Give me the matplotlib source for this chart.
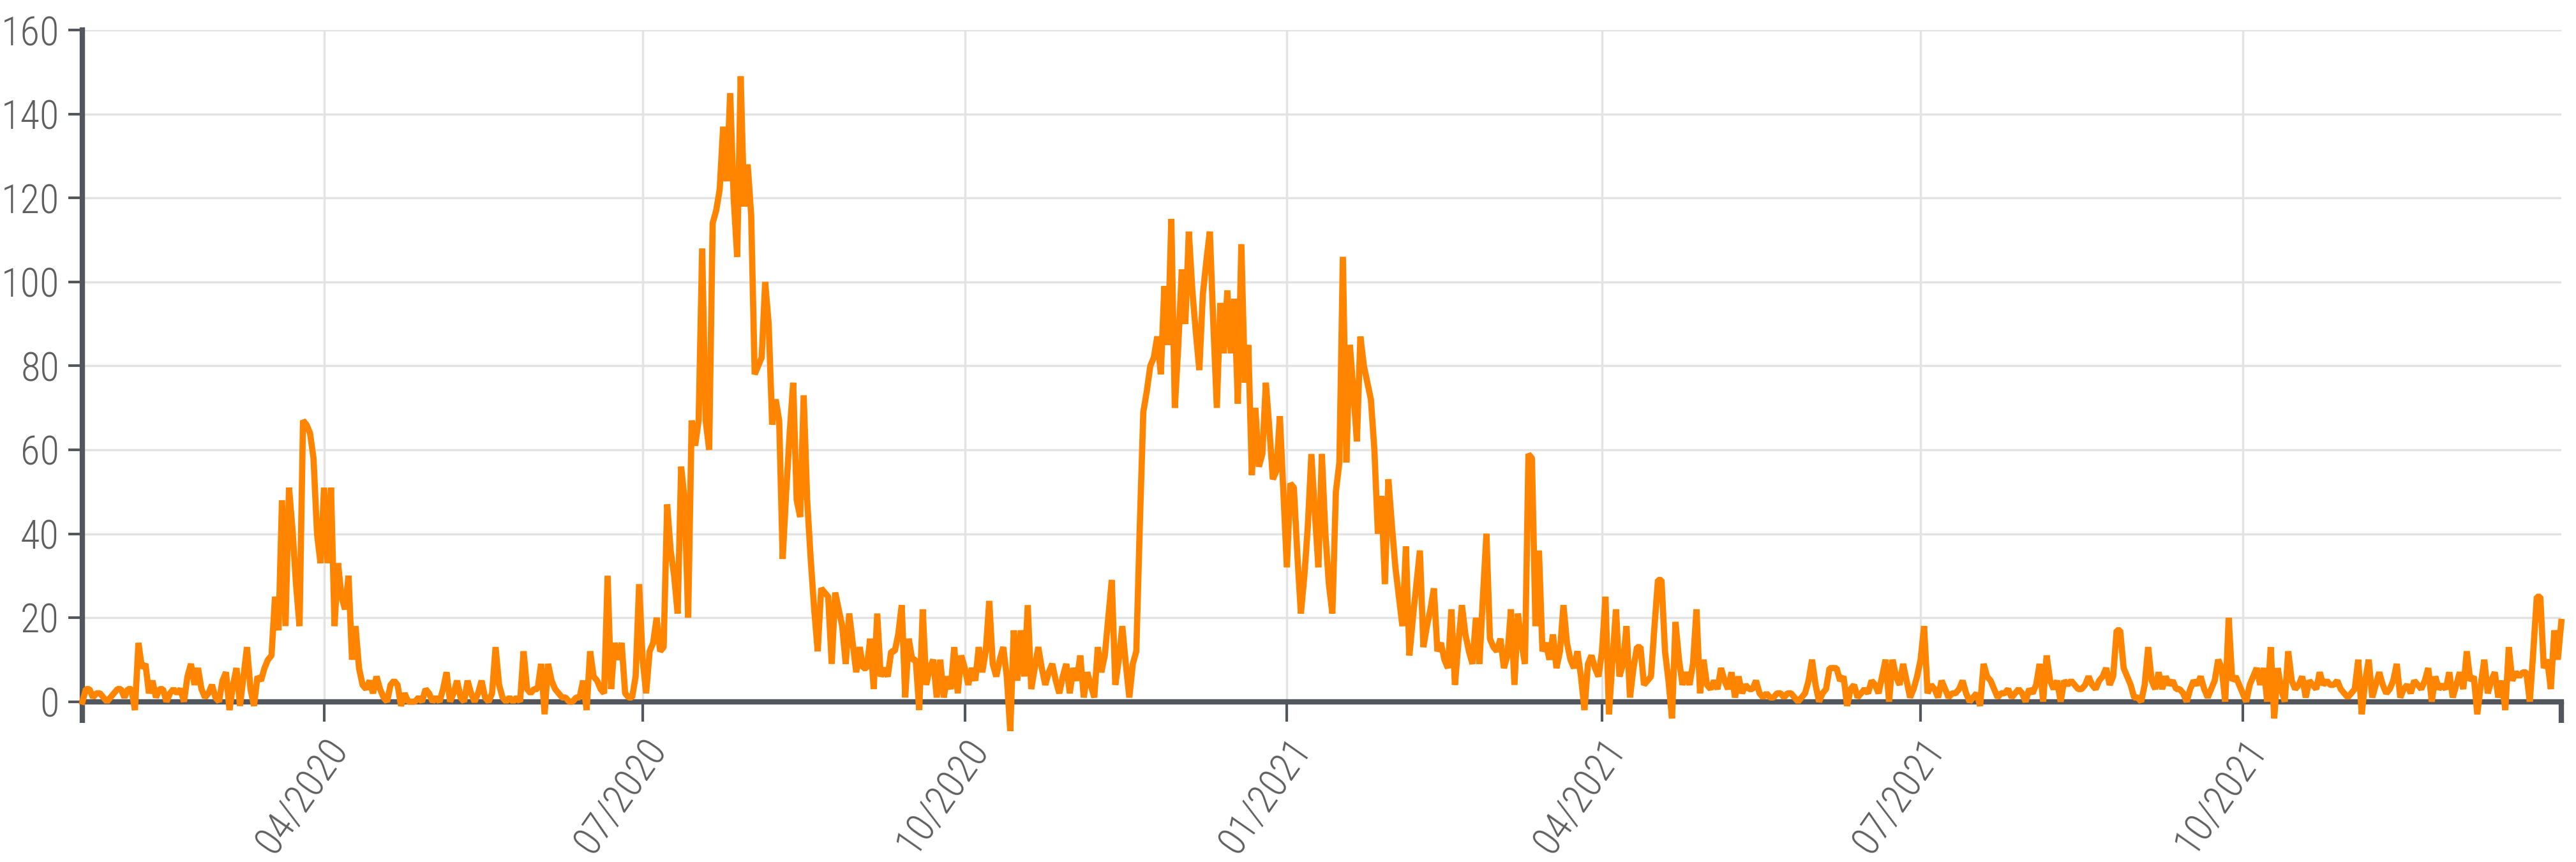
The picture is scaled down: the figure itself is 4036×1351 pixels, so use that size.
import pandas as pd
import matplotlib.pyplot as plt

# daily values, one list per month (series starts 23 Jan 2020)
jan20 = [0, 3, 3, 1, 2, 2, 1, 0, 1]
feb20 = [2, 3, 3, 1, 3, 3, -2, 14, 8, 9, 2, 5, 1, 3, 3, 0, 2, 3, 2, 3, 0, 6, 9, 4, 8, 3, 1, 2, 4]
mar20 = [1, 0, 5, 7, -2, 4, 8, -1, 6, 13, 3, -1, 6, 5, 8, 10, 11, 25, 17, 48, 18, 51, 41, 28, 18, 67, 66, 64, 58, 40, 33]
apr20 = [51, 33, 51, 18, 33, 25, 22, 30, 10, 18, 8, 4, 3, 5, 2, 6, 3, 1, 0, 4, 5, 4, -1, 2, 0, 0, 0, 1, 0, 3]
may20 = [2, 0, 1, 0, 3, 7, 0, 2, 5, 1, 0, 5, 2, 0, 2, 5, 1, 0, 2, 13, 4, 1, 0, 1, 0, 1, 0, 12, 3, 2, 3]
jun20 = [3, 9, -3, 9, 5, 3, 2, 1, 1, 0, 0, 1, 1, 5, -2, 12, 6, 5, 3, 2, 30, 3, 14, 10, 14, 2, 1, 1, 6, 28]
jul20 = [10, 2, 12, 14, 20, 12, 13, 47, 36, 30, 21, 56, 48, 20, 67, 61, 67, 108, 67, 60, 114, 117, 122, 137, 124, 145, 120, 106, 149, 118, 128]
aug20 = [116, 78, 80, 82, 100, 90, 66, 72, 67, 34, 50, 64, 76, 48, 44, 73, 48, 34, 22, 12, 27, 26, 25, 9, 26, 22, 18, 9, 21, 14, 7]
sep20 = [13, 8, 8, 15, 3, 21, 6, 8, 6, 12, 12, 16, 23, 1, 15, 10, 10, -2, 22, 4, 8, 10, 1, 10, 1, 6, 3, 13, 2, 11]
oct20 = [8, 4, 8, 5, 13, 7, 12, 24, 9, 6, 10, 13, 6, -7, 17, 5, 17, 6, 23, 3, 8, 13, 8, 4, 7, 9, 5, 2, 6, 9, 2]
nov20 = [8, 5, 11, 1, 7, 4, 1, 13, 7, 11, 20, 29, 4, 10, 18, 9, 1, 9, 12, 42, 69, 74, 80, 82, 87, 78, 99, 85, 115, 70]
dec20 = [85, 103, 90, 112, 98, 88, 79, 97, 105, 112, 90, 70, 95, 83, 98, 83, 96, 71, 109, 76, 85, 54, 70, 56, 59, 76, 65, 53, 55, 68, 50]
jan21 = [32, 52, 51, 35, 21, 30, 42, 59, 45, 32, 59, 40, 28, 21, 50, 57, 106, 57, 85, 74, 62, 87, 80, 76, 72, 60, 40, 49, 28, 53, 42]
feb21 = [32, 25, 18, 37, 11, 20, 28, 36, 13, 18, 22, 27, 12, 14, 10, 8, 22, 4, 14, 23, 16, 12, 9, 20, 9, 25, 40, 15]
mar21 = [13, 12, 15, 8, 11, 22, 4, 21, 14, 9, 59, 58, 18, 36, 12, 14, 10, 16, 8, 12, 23, 14, 10, 8, 12, 6, -2, 9, 11, 8, 6]
apr21 = [12, 25, -3, 10, 22, 6, 9, 18, 1, 8, 13, 13, 4, 5, 6, 18, 29, 29, 12, 5, -4, 19, 10, 4, 7, 4, 9, 22, 2, 10]
may21 = [4, 3, 5, 3, 8, 5, 3, 7, 1, 6, 2, 4, 3, 3, 5, 2, 1, 2, 1, 1, 2, 2, 1, 2, 2, 1, 0, 1, 2, 5, 10]
jun21 = [4, 0, 2, 3, 8, 8, 8, 5, 6, -1, 3, 4, 1, 2, 3, 2, 5, 4, 2, 6, 10, 0, 10, 6, 4, 9, 5, 1, 3, 6]
jul21 = [10, 18, 2, 4, 3, 1, 5, 3, 1, 2, 2, 3, 5, 2, 0, 1, 2, -1, 9, 6, 5, 3, 1, 2, 2, 3, 1, 2, 3, 2, 0]
aug21 = [3, 2, 4, 9, 0, 11, 5, 3, 5, 0, 5, 4, 5, 4, 3, 3, 4, 6, 4, 3, 5, 6, 8, 4, 6, 17, 17, 8, 6, 4, 1]
sep21 = [1, 0, 4, 13, 5, 3, 7, 3, 6, 4, 5, 3, 3, 2, 0, 3, 5, 4, 6, 3, 1, 3, 5, 10, 8, 0, 20, 5, 6, 4]
oct21 = [2, 0, 4, 6, 8, 4, 8, 0, 13, -4, 8, 3, 0, 12, 5, 3, 4, 6, 1, 5, 4, 3, 7, 4, 5, 4, 4, 5, 3, 2, 1]
nov21 = [2, 3, 10, -3, 5, 10, 1, 4, 7, 4, 2, 3, 5, 9, 1, 3, 4, 2, 5, 4, 3, 5, 8, 0, 6, 3, 4, 3, 7, 1]
dec21 = [4, 7, 3, 12, 5, 6, -3, 4, 10, 2, 5, 7, 1, 5, -2, 13, 5, 7, 6, 7, 7, 0, 12, 25, 25, 8, 10, 3, 17, 10, 19]

values = (jan20 + feb20 + mar20 + apr20 + may20 + jun20 + jul20 + aug20 + sep20
          + oct20 + nov20 + dec20 + jan21 + feb21 + mar21 + apr21 + may21 + jun21
          + jul21 + aug21 + sep21 + oct21 + nov21 + dec21)
dates = pd.date_range("2020-01-23", periods=len(values), freq="D")

tick_dates = pd.to_datetime(["2020-04-01", "2020-07-01", "2020-10-01", "2021-01-01",
                             "2021-04-01", "2021-07-01", "2021-10-01"])
tick_labels = ["04/2020", "07/2020", "10/2020", "01/2021", "04/2021", "07/2021", "10/2021"]
y_ticks = [0, 20, 40, 60, 80, 100, 120, 140, 160]

# narrow, light face for the tick labels, whichever condensed font is there
plt.rcParams["font.family"] = ["Roboto Condensed", "Liberation Sans Narrow", "DejaVu Sans"]
plt.rcParams["font.stretch"] = "condensed"
plt.rcParams["font.weight"] = "light"

axis_col = "#52575d"
text_col = "#5f5f5f"

fig = plt.figure(figsize=(40.36, 13.51), dpi=100)
ax = fig.add_axes([0.032, 0.186, 0.9623, 0.779])

ax.plot(dates, values, color="#ff8500", lw=7, clip_on=False,
        solid_joinstyle="bevel", zorder=3)

ax.set_xlim(dates[0], dates[-1])
ax.set_ylim(0, 160)
ax.set_yticks(y_ticks)
ax.set_xticks(tick_dates)
ax.set_xticklabels(tick_labels, rotation=55, ha="right", va="top",
                   rotation_mode="anchor")
# small ticks at both ends of the x axis
ax.set_xticks([dates[0], dates[-1]], minor=True)

for side in ["top", "right"]:
    ax.spines[side].set_visible(False)
for side in ["left", "bottom"]:
    ax.spines[side].set_color(axis_col)
    ax.spines[side].set_linewidth(6)

ax.tick_params(axis="y", length=16, width=3, color=axis_col, labelsize=45,
               labelcolor=text_col, pad=10)
ax.tick_params(axis="x", which="major", length=22, width=3, color=axis_col,
               labelsize=45, labelcolor=text_col, pad=12)
ax.tick_params(axis="x", which="minor", length=24, width=6, color=axis_col)

ax.grid(True, which="major", color="#e3e3e3", lw=2.5)
ax.set_axisbelow(True)

fig.savefig("out.png", dpi=100)
